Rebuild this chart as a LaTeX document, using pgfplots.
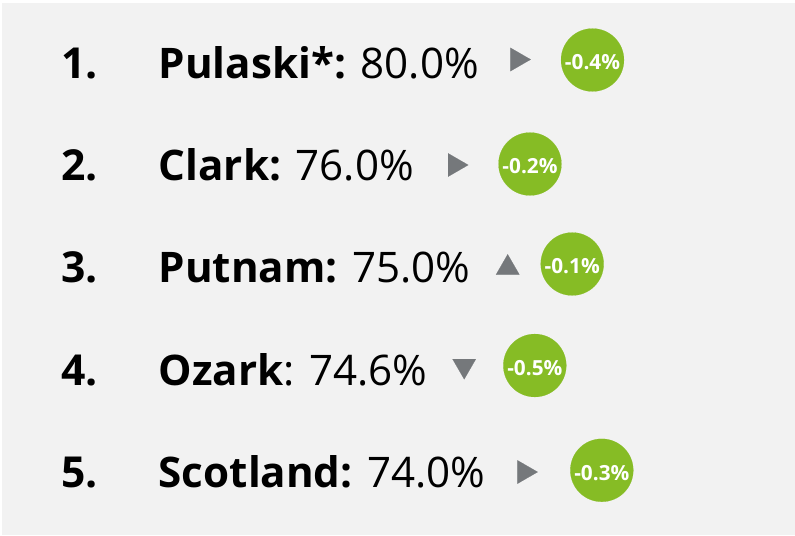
\documentclass[border=0pt]{standalone}
\usepackage{fontspec}
\setmainfont{Open Sans}
\usepackage{pgfplots}
\pgfplotsset{compat=1.18}
\definecolor{bg}{HTML}{F2F2F2}
\definecolor{dgreen}{HTML}{86BC25}
\definecolor{tgray}{HTML}{75787B}
\begin{document}
\begin{tikzpicture}
\begin{axis}[
  scale only axis, width=596.25pt, height=401.25pt,
  xmin=0, xmax=795, ymin=0, ymax=535, y dir=reverse,
  hide axis, clip=false,
]
\fill[white] (axis cs:0,0) rectangle (axis cs:795,535);
\fill[bg] (axis cs:2,3) rectangle (axis cs:795,535);
% rank numbers
\addplot[only marks, mark=none, nodes near coords, point meta=explicit symbolic,
  every node near coord/.append style={anchor=base west, inner sep=0pt, text=black,
  font=\fontsize{32}{39}\selectfont\bfseries}]
  coordinates {(61,78.5)[1.] (61,180.5)[2.] (61,282.5)[3.] (61,385)[4.] (61,487.5)[5.]};
% names and values
\addplot[only marks, mark=none, nodes near coords, point meta=explicit symbolic,
  every node near coord/.append style={anchor=base west, inner sep=0pt, text=black,
  font=\fontsize{31.6}{39}\selectfont}]
  coordinates {
  (158.5,78.5)[\textbf{Pulaski*:} 80.0\%]
  (158.5,180.5)[\textbf{Clark:} 76.0\%]
  (158.5,282.5)[\textbf{Putnam:} 75.0\%]
  (158.5,385)[\textbf{Ozark}: 74.6\%]
  (158.5,487.5)[\textbf{Scotland:} 74.0\%]};
% trend triangles: flat (right)
\addplot[tgray, only marks, mark=triangle*, mark size=10.1pt,
  mark options={fill=tgray, draw=tgray, line width=0.1pt, rotate=-90}]
  coordinates {(517.2,59.5) (454.8,165) (524.2,472)};
% up
\addplot[tgray, only marks, mark=triangle*, mark size=10.1pt,
  mark options={fill=tgray, draw=tgray, line width=0.1pt}]
  coordinates {(507.7,267.8)};
% down
\addplot[tgray, only marks, mark=triangle*, mark size=10.1pt,
  mark options={fill=tgray, draw=tgray, line width=0.1pt, rotate=180}]
  coordinates {(464.2,365.8)};
% change circles
\addplot[dgreen, only marks, mark=*, mark size=23.6pt,
  mark options={fill=dgreen, draw=dgreen, line width=0.1pt},
  nodes near coords, point meta=explicit symbolic,
  every node near coord/.append style={anchor=center, inner sep=0pt, text=white,
  yshift=-1.9pt, font=\fontsize{15.6}{18}\selectfont\bfseries}]
  coordinates {(592.5,60)[-0.4\%] (530,164)[-0.2\%] (572.2,264)[-0.1\%]
               (534.8,365.5)[-0.5\%] (601.8,470.3)[-0.3\%]};
\end{axis}
\end{tikzpicture}
\end{document}
